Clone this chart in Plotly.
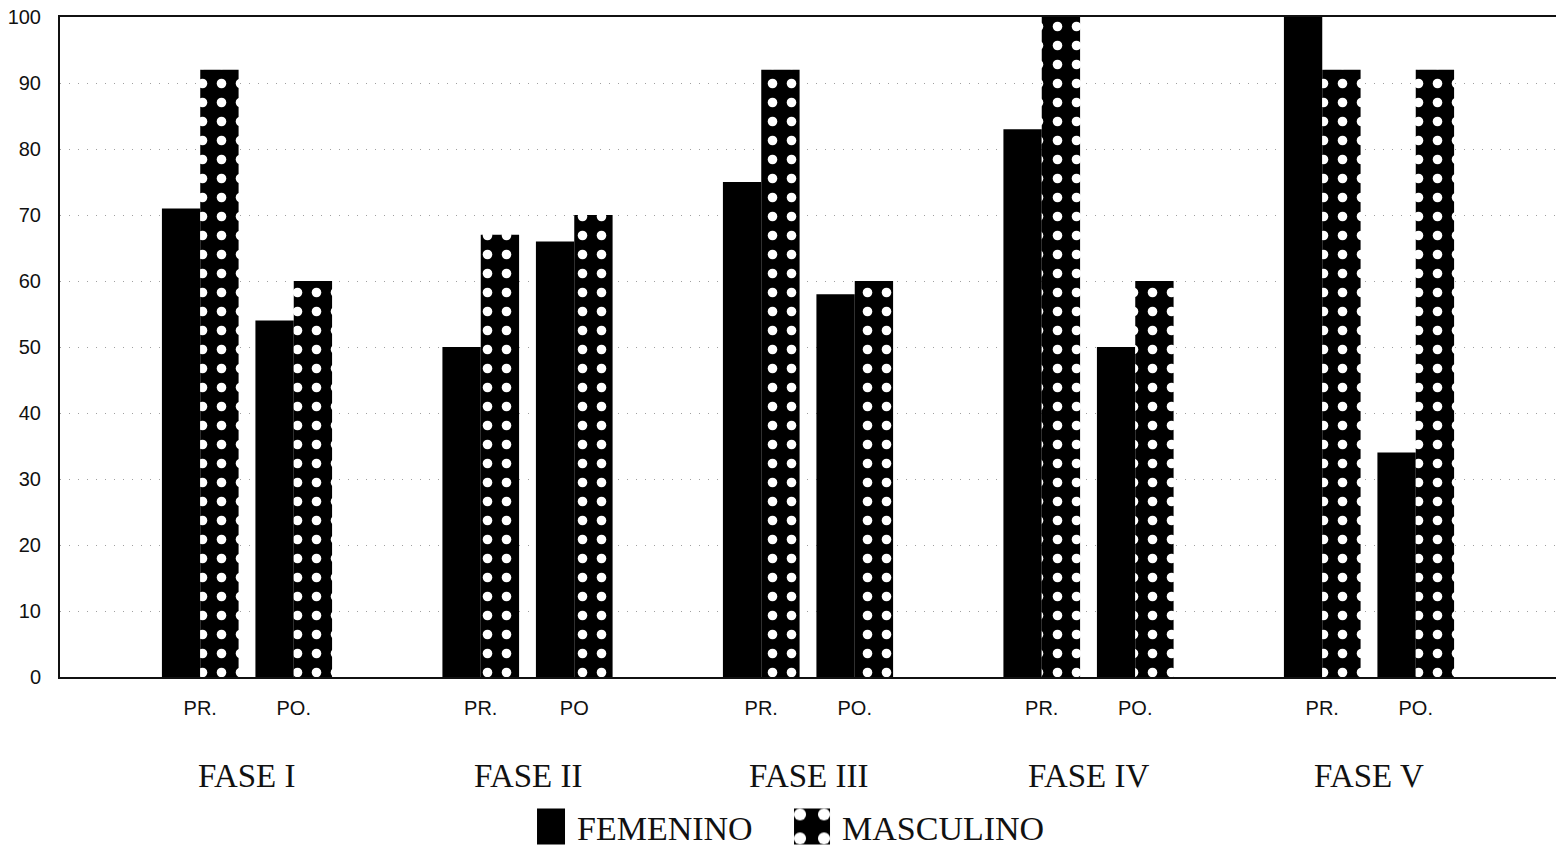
import plotly.graph_objects as go

# Phases and measurement moments
phases = ["FASE I", "FASE II", "FASE III", "FASE IV", "FASE V"]
moments = ["PR.", "PO."]
tick_text = ["PR.", "PO.", "PR.", "PO", "PR.", "PO.", "PR.", "PO.", "PR.", "PO."]

# Percentages per phase (PR., PO.)
femenino = [71, 54, 50, 66, 75, 58, 83, 50, 100, 34]
masculino = [92, 60, 67, 70, 92, 60, 100, 60, 92, 92]

y_ticks = list(range(0, 101, 10))

# positions: two slots per phase, one empty slot between phases
x_pos = [3 * i + j for i in range(len(phases)) for j in range(len(moments))]
phase_centers = [3 * i + 0.5 for i in range(len(phases))]

bar_w = 0.41

fig = go.Figure()
fig.add_trace(go.Bar(
    x=x_pos, y=femenino, name="FEMENINO",
    width=bar_w, offset=-bar_w,
    marker=dict(color="#000000", line=dict(width=0)),
))
fig.add_trace(go.Bar(
    x=x_pos, y=masculino, name="MASCULINO",
    width=bar_w, offset=0,
    marker=dict(
        color="#000000", line=dict(width=0),
        pattern=dict(shape=".", fgcolor="#ffffff", bgcolor="#000000",
                     fgopacity=1, size=19, solidity=0.2, fillmode="overlay"),
    ),
))

for name, xc in zip(phases, phase_centers):
    fig.add_annotation(
        x=xc, xref="x", y=-0.15, yref="paper", yanchor="middle",
        text=name, showarrow=False,
        font=dict(family="Liberation Serif", size=33, color="#111111"),
    )

fig.update_layout(
    width=1556, height=849,
    margin=dict(l=60, r=0, t=17, b=172, autoexpand=False),
    paper_bgcolor="#ffffff", plot_bgcolor="#ffffff",
    barmode="overlay",
    showlegend=True,
    legend=dict(
        orientation="h", x=0.496, xanchor="center", y=-0.227, yanchor="middle",
        font=dict(family="Liberation Serif", size=34, color="#111111"),
        entrywidth=220, entrywidthmode="pixels",
        itemclick=False, itemdoubleclick=False, tracegroupgap=0,
    ),
    xaxis=dict(
        range=[-1.5, 14.5], tickmode="array", tickvals=x_pos, ticktext=tick_text,
        showgrid=False, zeroline=False, ticks="", ticklabelstandoff=12,
        showline=True, linecolor="#111111", linewidth=2, mirror=True,
        tickfont=dict(family="Liberation Sans", size=20, color="#111111"),
    ),
    yaxis=dict(
        range=[0, 100], tickmode="array", tickvals=y_ticks,
        showgrid=True, gridcolor="#a0a0a0", gridwidth=1, griddash="1px,8px",
        zeroline=False, ticks="", ticklabelstandoff=13,
        showline=True, linecolor="#111111", linewidth=2,
        tickfont=dict(family="Liberation Sans", size=20, color="#111111"),
    ),
)

# enlarge legend swatches
post = """
var gd = document.getElementById('{plot_id}');
function bigSwatches(){
  gd.querySelectorAll('.legend .legendpoints path').forEach(function(p){
    var t = p.getAttribute('data-t0');
    if(t === null){ t = p.getAttribute('transform') || ''; p.setAttribute('data-t0', t); }
    p.setAttribute('transform', t + ' translate(-10,0) scale(3)');
  });
}
bigSwatches();
gd.on('plotly_afterplot', bigSwatches);
"""

fig.write_html("out.html", post_script=post)
